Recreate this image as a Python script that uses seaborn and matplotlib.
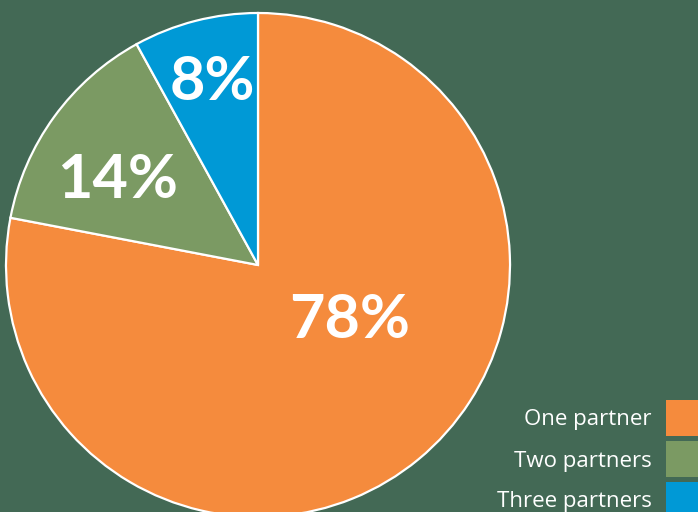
import matplotlib
matplotlib.use("Agg")
import matplotlib.pyplot as plt
from matplotlib.patches import Rectangle
import seaborn as sns

categories = ["One partner", "Two partners", "Three partners"]
values = [78, 14, 8]
labels = ["78%", "14%", "8%"]

sns.set_theme(style="white")
plt.rcParams['font.family'] = ['Lato', 'DejaVu Sans']

bg = "#436955"
colors = ["#F58B3D", "#7B9A63", "#0099D6"]

W, H = 698, 512
fig = plt.figure(figsize=(W / 100, H / 100), dpi=100, facecolor=bg)
ax = fig.add_axes([0, 0, 1, 1])
ax.set_facecolor(bg)

cx, cy, R = 258, 265, 252
ax.pie(values, colors=colors, startangle=90, counterclock=False, radius=1,
       wedgeprops=dict(edgecolor="white", linewidth=1.6))
ax.set_xlim(-cx / R, (W - cx) / R)
ax.set_ylim(-(H - cy) / R, cy / R)
ax.set_aspect("auto")
ax.axis("off")

label_pos = [(0.365, -0.218), (-0.556, 0.337), (-0.183, 0.726)]
for (x, y), t in zip(label_pos, labels):
    ax.text(x, y, t, ha="center", va="center", color="white",
            fontsize=44, fontweight="bold")

# legend
sq = 36
tops = [400, 441, 482]
for name, c, top in zip(categories, colors, tops):
    fig.add_artist(Rectangle((666 / W, 1 - (top + sq) / H), sq / W, sq / H,
                             transform=fig.transFigure, facecolor=c,
                             edgecolor="none"))
    fig.text(652 / W, 1 - (top + sq / 2 + 2) / H, name, ha="right", va="center",
             color="white", fontsize=16, family=["Open Sans", "DejaVu Sans"])

fig.savefig("out.png", dpi=100, facecolor=bg)
